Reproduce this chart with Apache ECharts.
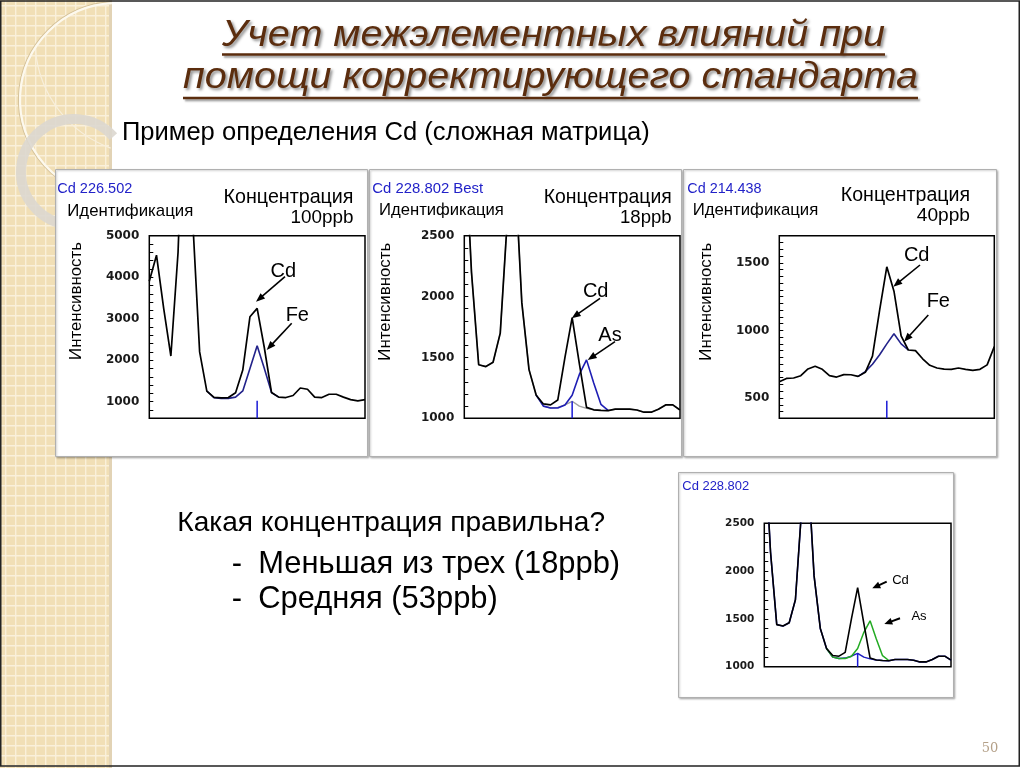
<!DOCTYPE html>
<html><head><meta charset="utf-8">
<script src="https://cdn.jsdelivr.net/npm/echarts@6/dist/echarts.min.js"></script>
<style>html,body{margin:0;padding:0;background:#fff}#c{width:1024px;height:768px}</style>
</head><body><div id="c"></div>
<script>
// ---------- DATA ----------
const channels = [0,1,2,3,4,5,6,7,8,9,10,11,12,13,14,15,16,17,18,19,20,21,22,23,24,25,26,27,28,29,30];
// Cd 226.502 (100 ppb)
const cd226Total = [3900,4530,3250,2100,4600,9500,5500,2200,1257,1104,1090,1100,1217,1763,3048,3249,2300,1220,1110,1100,1150,1330,1300,1110,1100,1180,1180,1110,1050,1020,1050];
const cd226Fe    = [null,null,null,null,null,null,null,null,1257,1095,1080,1080,1110,1260,1800,2350,1800,1220,1110,null,null,null,null,null,null,null,null,null,null,null,null];
// Cd 228.802 (18 ppb)
const cd228Total = [3400,2200,1440,1425,1460,1700,2650,3100,1950,1400,1190,1118,1110,1150,1500,1827,1450,1090,1070,1065,1063,1075,1075,1075,1068,1050,1050,1075,1110,1110,1068];
const cd228As    = [null,null,null,null,null,null,null,null,null,null,1190,1100,1085,1085,1110,1190,1360,1480,1290,1115,1065,null,null,null,null,null,null,null,null,null,null];
const cd228Bkg   = [3400,2200,1440,1425,1460,1700,2650,3100,1950,1400,1190,1100,1085,1090,1110,1140,1100,1082,1070,1065,1063,1075,1075,1075,1068,1050,1050,1075,1110,1110,1068];
// Cd 214.438 (40 ppb)
const cd214Total = [620,645,648,665,715,735,712,665,655,673,672,660,690,810,1150,1470,1290,960,855,850,790,742,722,713,712,722,712,705,712,745,880];
const cd214Fe    = [null,null,null,null,null,null,null,null,null,null,null,660,695,750,820,900,975,900,855,null,null,null,null,null,null,null,null,null,null,null,null];
// peak position markers
const markerX = 15;
const markerLow  = [600, 1000, 350, 1000];
const markerHigh = [1020, 1140, 480, 1140];
// y tick labels
const yTicks1 = [1000,2000,3000,4000,5000];
const yTicks2 = [1000,1500,2000,2500];
const yTicks3 = [500,1000,1500];
const yTicks4 = [1000,1500,2000,2500];

// ---------- helpers ----------
const SANS = '"Liberation Sans", Arial, sans-serif';
const ctx = document.createElement('canvas').getContext('2d');
function measure(text, size, family, style, weight){
  ctx.font = (style||'normal')+' '+(weight||'normal')+' '+size+'px '+family;
  return ctx.measureText(text).width;
}
function txt(text, x, baseline, o){
  o = o || {};
  const fam = o.family || SANS;
  let size = o.size || 14;
  if (o.fitWidth) size = 100*o.fitWidth/measure(text,100,fam,o.style,o.weight);
  let scaleX = 1;
  if (o.scaleWidth) scaleX = o.scaleWidth/measure(text,size,fam,o.style,o.weight);
  const el = {type:'text', x:x, y:(o.rot? baseline : baseline-0.35*size), z:o.z||50, scaleX:scaleX,
    style:{text:text, fontSize:size, fontFamily:fam, fontStyle:o.style||'normal', fontWeight:o.weight||'normal',
      fill:o.color||'#000', textAlign:o.align||'left', align:o.align||'left', textVerticalAlign:'middle', verticalAlign:'middle'}};
  if (o.rot) el.rotation = o.rot;
  if (o.shadow){ Object.assign(el.style, o.shadow); }
  el._size = size;
  return el;
}
function arrow(x1,y1,x2,y2,hl,hw,lw){
  const dx=x2-x1, dy=y2-y1, L=Math.hypot(dx,dy), ux=dx/L, uy=dy/L;
  const bx=x2-ux*hl, by=y2-uy*hl;
  return [
    {type:'line', z:60, shape:{x1:x1,y1:y1,x2:bx+ux*1,y2:by+uy*1}, style:{stroke:'#000', lineWidth:lw}},
    {type:'polygon', z:60, shape:{points:[[x2,y2],[bx-uy*hw/2,by+ux*hw/2],[bx+uy*hw/2,by-ux*hw/2]]}, style:{fill:'#000'}}
  ];
}

// ---------- graphics ----------
const G = [];
// left decorative strip
G.push({type:'rect', z:-5, shape:{x:0,y:0,width:112,height:768}, style:{fill:'#f1dfb6'}});
for (let x=5; x<112; x+=10) G.push({type:'rect', z:-4, shape:{x:x,y:0,width:1.4,height:768}, style:{fill:'#faf0da'}});
for (let y=5; y<768; y+=10) G.push({type:'rect', z:-4, shape:{x:0,y:y,width:112,height:1.4}, style:{fill:'#faf0da'}});
G.push({type:'rect', z:-4, shape:{x:109,y:0,width:3,height:768}, style:{fill:'#e2d3b5'}});
G.push({type:'arc', z:-3, shape:{cx:117,cy:100,r:98.5,startAngle:93*Math.PI/180,endAngle:267*Math.PI/180}, style:{stroke:'#d6c39b',lineWidth:1.2,fill:null}});
G.push({type:'arc', z:-3, shape:{cx:117,cy:100,r:97,startAngle:93*Math.PI/180,endAngle:267*Math.PI/180}, style:{stroke:'#fdf9ee',lineWidth:2.2,fill:null}});
G.push({type:'arc', z:-3, shape:{cx:150,cy:40,r:115,startAngle:110*Math.PI/180,endAngle:175*Math.PI/180}, style:{stroke:'#f8efdc',lineWidth:1.2,fill:null}});
G.push({type:'arc', z:-3, shape:{cx:74,cy:172,r:53,startAngle:50*Math.PI/180,endAngle:318*Math.PI/180}, style:{stroke:'#dcd7cf',lineWidth:10,fill:null,opacity:0.9}});

// panels
const panelStyle = {fill:'#fff', stroke:'#b0b0b0', lineWidth:1, shadowBlur:2, shadowColor:'rgba(0,0,0,0.25)', shadowOffsetX:1, shadowOffsetY:1};
G.push({type:'rect', z:-1, shape:{x:55.5,y:169.5,width:312,height:287}, style:panelStyle});
G.push({type:'rect', z:-1, shape:{x:369.5,y:169.5,width:312,height:287}, style:panelStyle});
G.push({type:'rect', z:-1, shape:{x:683.5,y:169.5,width:313,height:287}, style:panelStyle});
G.push({type:'rect', z:-1, shape:{x:678.5,y:472.5,width:275,height:225}, style:panelStyle});

// title
const TCOL = '#5b2d0e';
const tShadow = {shadowColor:'rgba(0,0,0,0.45)', shadowBlur:3, shadowOffsetX:2, shadowOffsetY:2,
                 textShadowColor:'rgba(0,0,0,0.45)', textShadowBlur:3, textShadowOffsetX:2, textShadowOffsetY:2};
G.push(txt('Учет межэлементных влияний при', 222, 49, {size:36, style:'italic', color:TCOL, scaleWidth:663, shadow:tShadow}));
G.push(txt('помощи корректирующего стандарта', 183, 91, {size:36, style:'italic', color:TCOL, scaleWidth:735, shadow:tShadow}));
const ulStyle = {stroke:TCOL, lineWidth:2.5, shadowColor:'rgba(0,0,0,0.4)', shadowBlur:2, shadowOffsetX:2, shadowOffsetY:2};
G.push({type:'line', z:50, shape:{x1:222,y1:54.5,x2:885,y2:54.5}, style:ulStyle});
G.push({type:'line', z:50, shape:{x1:183,y1:98,x2:918,y2:98}, style:ulStyle});

// subtitle
G.push(txt('Пример определения Cd (сложная матрица)', 122, 142, {fitWidth:528, color:'#000'}));

// panel texts
const BLUE = '#2222c8';
G.push(txt('Cd 226.502', 57.3, 193.7, {fitWidth:75, color:BLUE}));
G.push(txt('Идентификация', 67.3, 217.7, {fitWidth:126}));
G.push(txt('Концентрация', 353.5, 204.3, {fitWidth:130, align:'right'}));
G.push(txt('100ppb', 353.5, 224.3, {fitWidth:63, align:'right'}));
G.push(txt('Интенсивность', 76.7, 301, {fitWidth:118, rot:Math.PI/2, align:'center'}));

G.push(txt('Cd 228.802 Best', 372.3, 194, {fitWidth:111, color:BLUE}));
G.push(txt('Идентификация', 379, 216.7, {fitWidth:125}));
G.push(txt('Концентрация', 671.7, 204.3, {fitWidth:128, align:'right'}));
G.push(txt('18ppb', 671.7, 224.3, {fitWidth:51.7, align:'right'}));
G.push(txt('Интенсивность', 385, 301.7, {fitWidth:118, rot:Math.PI/2, align:'center'}));

G.push(txt('Cd 214.438', 687.3, 193.7, {fitWidth:74.3, color:BLUE}));
G.push(txt('Идентификация', 692.7, 216.7, {fitWidth:125.7}));
G.push(txt('Концентрация', 970, 202.3, {fitWidth:129.3, align:'right'}));
G.push(txt('40ppb', 970, 222.3, {fitWidth:53.3, align:'right'}));
G.push(txt('Интенсивность', 706.7, 301.7, {fitWidth:118, rot:Math.PI/2, align:'center'}));

G.push(txt('Cd 228.802', 682.3, 490.7, {fitWidth:67, color:BLUE}));

// annotations
G.push(txt('Cd', 283.3, 278, {size:20, align:'center'}));
G.push(txt('Fe', 297.3, 322, {size:20, align:'center'}));
G.push(...arrow(285,276.7,256,301.7,9,7,1.6));
G.push(...arrow(291.7,323.3,266.7,350,9,7,1.6));
G.push(txt('Cd', 595.7, 298.7, {size:20, align:'center'}));
G.push(txt('As', 610, 342, {size:20, align:'center'}));
G.push(...arrow(600,298.3,571.7,318.3,9,7,1.6));
G.push(...arrow(615,341.7,587.7,360,9,7,1.6));
G.push(txt('Cd', 916.7, 262, {size:20, align:'center'}));
G.push(txt('Fe', 938.3, 308.7, {size:20, align:'center'}));
G.push(...arrow(920,265,893.3,286.7,9,7,1.6));
G.push(...arrow(928.3,315,904,341.7,9,7,1.6));
G.push(txt('Cd', 900.5, 584.5, {size:13, align:'center'}));
G.push(txt('As', 919, 620.5, {size:13, align:'center'}));
G.push(...arrow(886.7,581.7,872.3,588.3,8,7,2));
G.push(...arrow(900,618.3,884.3,624,8,7,2));

// question text
G.push(txt('Какая концентрация правильна?', 177.3, 533.3, {fitWidth:428}));
const q2 = txt('Меньшая из трех (18ppb)', 258.3, 575, {fitWidth:362});
G.push(q2);
G.push(txt('-', 231.7, 575, {size:q2._size}));
G.push(txt('Средняя (53ppb)', 258.3, 610, {size:q2._size}));
G.push(txt('-', 231.7, 610, {size:q2._size}));

// page number + frame
G.push(txt('50', 990, 753, {size:13, family:'"DejaVu Serif", serif', color:'#b4a088', align:'center'}));
G.push({type:'rect', z:200, shape:{x:0.75,y:1,width:1018.5,height:765}, style:{fill:null, stroke:'#222', lineWidth:1.5}});
G.forEach(e => { delete e._size; });

// ---------- chart ----------
const grids = [
  {left:149.3, top:235.7, width:215.7, height:182.6},
  {left:464.3, top:235.7, width:215.7, height:182.6},
  {left:779.3, top:235.7, width:215,   height:182.6},
  {left:764.3, top:523.3, width:186.7, height:143.4}
].map(g => Object.assign(g, {show:true, borderColor:'#000', borderWidth:1.5, backgroundColor:'transparent', containLabel:false}));

function xAx(gi){ return {type:'value', gridIndex:gi, min:0, max:30, axisLine:{show:false}, axisTick:{show:false}, axisLabel:{show:false}, splitLine:{show:false}}; }
function yAx(gi,min,max,step,labels,fs){
  return {type:'value', gridIndex:gi, min:min, max:max, interval:step,
    axisLine:{show:false}, splitLine:{show:false},
    axisTick:{show:true, inside:true, length:4, lineStyle:{color:'#000', width:1}},
    axisLabel:{show:true, margin:10, fontFamily:'"DejaVu Sans", sans-serif', fontWeight:'bold', fontSize:fs, color:'#1a1a1a',
      formatter: v => labels.includes(v) ? String(v) : ''}};
}
function ln(gi, vals, color, width, z){
  return {type:'line', xAxisIndex:gi, yAxisIndex:gi, data:channels.map((c,i)=>[c, vals[i]]),
    showSymbol:false, symbol:'none', lineStyle:{color:color, width:width}, itemStyle:{color:color},
    clip:true, silent:true, z:z, connectNulls:false};
}
function marker(gi){
  return {type:'line', xAxisIndex:gi, yAxisIndex:gi, data:[[markerX, markerLow[gi]],[markerX, markerHigh[gi]]],
    showSymbol:false, symbol:'none', lineStyle:{color:'#1a1ad6', width:1.5}, silent:true, z:6};
}

const option = {
  backgroundColor:'#fff',
  animation:false,
  grid: grids,
  xAxis: [xAx(0), xAx(1), xAx(2), xAx(3)],
  yAxis: [yAx(0,600,5000,200,yTicks1,12), yAx(1,1000,2500,100,yTicks2,12), yAx(2,350,1700,50,yTicks3,12), yAx(3,1000,2500,100,yTicks4,10.5)],
  series: [
    ln(0, cd226Fe, '#22228a', 1.6, 3),
    ln(0, cd226Total, '#000', 1.7, 4),
    marker(0),
    ln(1, cd228Bkg, '#a0a0a0', 1.4, 2),
    ln(1, cd228As, '#1e1eb4', 1.6, 3),
    ln(1, cd228Total, '#000', 1.7, 4),
    marker(1),
    ln(2, cd214Fe, '#22228a', 1.6, 3),
    ln(2, cd214Total, '#000', 1.7, 4),
    marker(2),
    ln(3, cd228Bkg, '#1e1ec0', 1.5, 2),
    ln(3, cd228As, '#22aa22', 1.5, 3),
    ln(3, cd228Total, '#000', 1.6, 4),
    marker(3)
  ],
  graphic: {elements: G}
};
const chart = echarts.init(document.getElementById('c'), null, {renderer:'canvas'});
chart.setOption(option);
</script>
</body></html>
